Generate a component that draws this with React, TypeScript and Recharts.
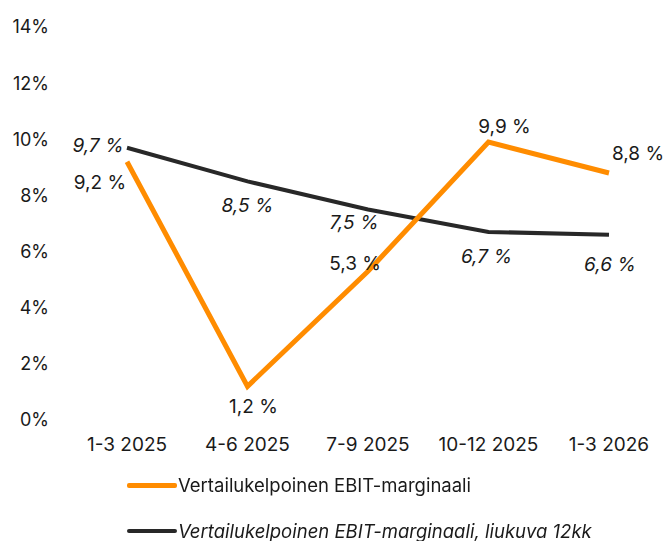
import { LineChart, Line, XAxis, YAxis, LabelList, Legend } from "recharts"

const categories = ["1-3 2025", "4-6 2025", "7-9 2025", "10-12 2025", "1-3 2026"]
const ebitMargin = [9.2, 1.2, 5.3, 9.9, 8.8]
const ebitRolling12 = [9.7, 8.5, 7.5, 6.7, 6.6]
const yTicks = [0, 2, 4, 6, 8, 10, 12, 14]

const seriesNames = {
    margin: "Vertailukelpoinen EBIT-marginaali",
    rolling: "Vertailukelpoinen EBIT-marginaali, liukuva 12kk",
}

const chartData = categories.map((name, i) => ({
    name,
    margin: ebitMargin[i],
    rolling: ebitRolling12[i],
}))

const ORANGE = "#ff8c00"
const DARK = "#282828"
const FONT = "Inter, 'Noto Sans', sans-serif"

// label offsets relative to each point (text center)
const marginOffsets = [[-27, 21], [6, 20], [-13, -8], [16, -16], [29, -19]]
const rollingOffsets = [[-29, -2], [0, 24], [-14, 13], [-2, 25], [1, 30]]

const fmt = (v: number) => `${v.toFixed(1).replace(".", ",")} %`

function makeLabel(offsets: number[][], italic: boolean) {
    return (props: any) => {
        const { x, y, value, index } = props
        const [dx, dy] = offsets[index] || [0, 0]
        return (
            <text
                x={x + dx}
                y={y + dy}
                textAnchor="middle"
                dominantBaseline="central"
                fontSize={19}
                fontStyle={italic ? "italic" : "normal"}
                fill="#1a1a1a"
                fontFamily={FONT}
            >
                {fmt(value)}
            </text>
        )
    }
}

function LegendContent() {
    const rows = [
        { label: seriesNames.margin, color: ORANGE, italic: false, w: 5 },
        { label: seriesNames.rolling, color: DARK, italic: true, w: 4 },
    ]
    return (
        <div style={{ fontFamily: FONT, fontSize: 18.5, color: "#1a1a1a" }}>
            {rows.map((r) => (
                <div key={r.label} style={{ display: "flex", alignItems: "center", height: 46 }}>
                    <span style={{ display: "inline-block", width: 50, height: r.w, background: r.color, borderRadius: 2 }} />
                    <span style={{ fontStyle: r.italic ? "italic" : "normal", marginLeft: 1, whiteSpace: "nowrap" }}>{r.label}</span>
                </div>
            ))}
        </div>
    )
}

export default function App() {
    return (
        <div style={{ position: "fixed", top: 0, left: 0, width: 665, height: 541, background: "#fff" }}>
            <LineChart width={665} height={541} data={chartData} margin={{ top: 27, right: 0, left: 0, bottom: 91 }}>
                <XAxis
                    dataKey="name"
                    scale="point"
                    padding={{ left: 65, right: 56 }}
                    axisLine={false}
                    tickLine={false}
                    tickSize={0}
                    tickMargin={18}
                    height={30}
                    interval={0}
                    tick={{ fontSize: 19, fill: "#1a1a1a", fontFamily: FONT }}
                />
                <YAxis
                    domain={[0, 14]}
                    ticks={yTicks}
                    width={62}
                    axisLine={false}
                    tickLine={false}
                    tickSize={0}
                    tickMargin={13}
                    tickFormatter={(v) => `${v}%`}
                    tick={{ fontSize: 18, fill: "#1a1a1a", fontFamily: FONT }}
                />
                <Legend
                    layout="vertical"
                    align="center"
                    verticalAlign="middle"
                    content={<LegendContent />}
                    wrapperStyle={{ top: 462, left: 127, width: "auto", height: "auto" }}
                />
                <Line
                    type="linear"
                    dataKey="rolling"
                    name={seriesNames.rolling}
                    stroke={DARK}
                    strokeWidth={4}
                    dot={false}
                    isAnimationActive={false}
                >
                    <LabelList dataKey="rolling" content={makeLabel(rollingOffsets, true)} />
                </Line>
                <Line
                    type="linear"
                    dataKey="margin"
                    name={seriesNames.margin}
                    stroke={ORANGE}
                    strokeWidth={5}
                    dot={false}
                    isAnimationActive={false}
                >
                    <LabelList dataKey="margin" content={makeLabel(marginOffsets, false)} />
                </Line>
            </LineChart>
        </div>
    )
}
